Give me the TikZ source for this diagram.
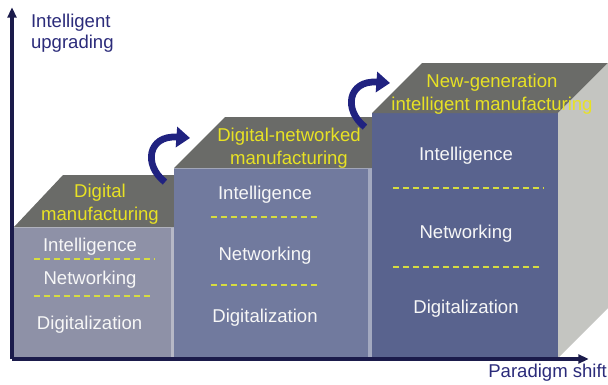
\documentclass[tikz,border=0pt]{standalone}
\usepackage{fontspec}
\setmainfont{Liberation Sans}
\usetikzlibrary{arrows.meta}
\definecolor{axisblue}{RGB}{27, 27, 75}
\definecolor{labelblue}{RGB}{43, 43, 122}
\definecolor{arcblue}{RGB}{32, 34, 128}
\definecolor{frontA}{RGB}{142, 145, 167}
\definecolor{frontB}{RGB}{113, 122, 158}
\definecolor{frontC}{RGB}{89, 99, 142}
\definecolor{topgray}{RGB}{106, 107, 104}
\definecolor{sidegray}{RGB}{196, 197, 193}
\definecolor{titleyellow}{RGB}{232, 226, 36}
\definecolor{sepyellow}{RGB}{214, 220, 64}

\begin{document}
\begin{tikzpicture}[
  txt/.style={font=\fontsize{13.2}{16.3}\selectfont, inner sep=0pt},
  layer/.style={txt, text=white!94!gray},
  title/.style={txt, text=titleyellow, align=center},
  sepline/.style={sepyellow, line width=1.4pt, dash pattern=on 4.5pt off 2.6pt},
  uparc/.style={arcblue, line width=4.8pt, -{Triangle[length=0.34cm, width=0.5cm]}},
  axisline/.style={axisblue, line width=2.2pt, -{Triangle[length=0.26cm, width=0.22cm]}}
]
  \useasboundingbox (0,0) rectangle (15.2,9.6);

  % Stage 1: digital manufacturing
  \fill[frontA] (0.35,0.65) rectangle (4.35,3.925);
  \fill[frontA!65!white] (4.27,0.65) rectangle (4.35,3.925);
  \draw[frontA!60!white, line width=0.6pt] (0.35,3.925) -- (4.35,3.925);
  \fill[topgray] (0.35,3.925) -- (1.575,5.225) -- (4.4,5.225) -- (4.4,3.925) -- cycle;
  \node[title] (t1) at (2.5,4.49) {Digital\\manufacturing};
  \node[layer] (i1) at (2.25,3.43) {Intelligence};
  \draw[sepline] (0.85,3.125) -- (3.85,3.125);
  \node[layer] (n1) at (2.25,2.6) {Networking};
  \draw[sepline] (0.85,2.2) -- (3.8,2.2);
  \node[layer] (d1) at (2.24,1.48) {Digitalization};

  % Stage 2: digital-networked manufacturing
  \fill[frontB] (4.35,0.65) rectangle (9.3,5.4);
  \fill[frontB!65!white] (9.2,0.65) rectangle (9.3,5.4);
  \draw[frontB!60!white, line width=0.6pt] (4.35,5.4) -- (9.3,5.4);
  \fill[topgray] (4.35,5.4) -- (5.625,6.675) -- (9.35,6.675) -- (9.35,5.4) -- cycle;
  \node[title] (t2) at (7.225,5.885) {Digital-networked\\manufacturing};
  \node[layer] (i2) at (6.625,4.725) {Intelligence};
  \draw[sepline] (5.275,4.175) -- (7.975,4.175);
  \node[layer] (n2) at (6.625,3.2) {Networking};
  \draw[sepline] (5.275,2.475) -- (7.975,2.475);
  \node[layer] (d2) at (6.625,1.65) {Digitalization};

  % Stage 3: new-generation intelligent manufacturing
  \fill[frontC] (9.3,0.65) rectangle (13.95,6.775);
  \fill[topgray] (9.3,6.775) -- (10.55,8.025) -- (15.2,8.025) -- (13.95,6.775) -- cycle;
  \fill[sidegray] (13.95,6.775) -- (15.2,8.025) -- (15.2,1.9) -- (13.95,0.65) -- cycle;
  \node[title] (t3) at (12.3,7.24) {New-generation\\intelligent manufacturing};
  \node[layer] (i3) at (11.65,5.7) {Intelligence};
  \draw[sepline] (9.825,4.9) -- (13.6,4.9);
  \node[layer] (n3) at (11.65,3.75) {Networking};
  \draw[sepline] (9.825,2.925) -- (13.475,2.925);
  \node[layer] (d3) at (11.65,1.875) {Digitalization};

  % Upgrade arrows
  \coordinate (s1) at (4.125,5.05);
  \coordinate (e1) at (4.75,6.15);
  \draw[uparc] (s1) .. controls (3.575,5.475) and (3.7,6.225) .. (e1);
  \coordinate (s2) at (9.125,6.425);
  \coordinate (e2) at (9.75,7.525);
  \draw[uparc] (s2) .. controls (8.575,6.85) and (8.7,7.6) .. (e2);

  % Axes
  \coordinate (origin) at (0.3,0.625);
  \coordinate (ytip) at (0.3,9.42);
  \coordinate (xtip) at (14.72,0.625);
  \draw[axisline] (origin) -- (ytip);
  \draw[axisline] (origin) -- (xtip);
  \node[txt, text=labelblue, align=left, anchor=west, font=\fontsize{13.2}{14.9}\selectfont] (ylab) at (0.77,8.78) {Intelligent\\upgrading};
  \node[txt, text=labelblue, anchor=base east] (xlab) at (15.18,0.175) {Paradigm shift};
\end{tikzpicture}
\end{document}
